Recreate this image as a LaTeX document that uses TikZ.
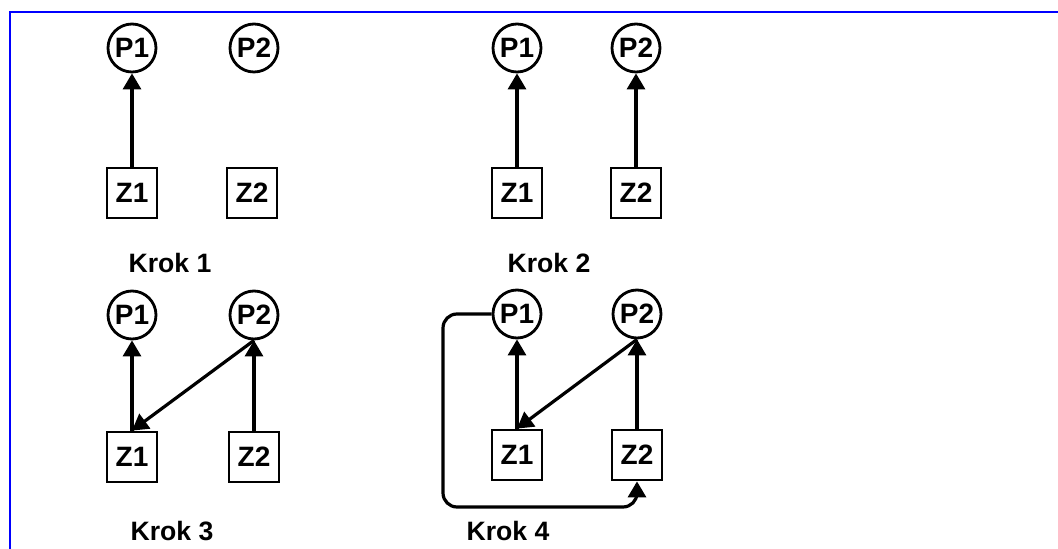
\documentclass[tikz,border=0pt]{standalone}
\usepackage{fontspec}
\setmainfont{Liberation Sans}
\usetikzlibrary{arrows.meta}
\begin{document}
\begin{tikzpicture}[x=0.5pt,y=-0.5pt,
  pnode/.style={circle,draw,line width=1.4pt,minimum size=24pt,inner sep=0pt,font=\bfseries\fontsize{14}{16}\selectfont},
  znode/.style={rectangle,draw,line width=1.4pt,minimum size=25pt,inner sep=0pt,font=\bfseries\fontsize{14}{16}\selectfont},
  lbl/.style={font=\bfseries\fontsize{13.3}{15}\selectfont,inner sep=0pt},
  arr/.style={line width=1.6pt,-{Triangle[length=8pt,width=9pt]}}]
\useasboundingbox (0,0) rectangle (1058,549);
\draw[draw={rgb,255:red,0;green,0;blue,255},line width=1.2pt] (10,549) -- (10,12) -- (1058,12);
% Krok 1
\node[pnode] (a1) at (132,48) {P1};
\node[pnode] (a2) at (254,48) {P2};
\node[znode] (b1) at (132,193) {Z1};
\node[znode] (b2) at (252,193) {Z2};
\node[lbl] (k1) at (170,263) {Krok 1};
\draw[arr] (b1) -- (a1);
% Krok 2
\node[pnode] (c1) at (517,48) {P1};
\node[pnode] (c2) at (636,48) {P2};
\node[znode] (d1) at (517,193) {Z1};
\node[znode] (d2) at (636,193) {Z2};
\node[lbl] (k2) at (549,263) {Krok 2};
\draw[arr] (d1) -- (c1);
\draw[arr] (d2) -- (c2);
% Krok 3
\node[pnode] (e1) at (132,315) {P1};
\node[pnode] (e2) at (254,315) {P2};
\node[znode] (f1) at (132,457) {Z1};
\node[znode] (f2) at (254,457) {Z2};
\node[lbl] (k3) at (172,531) {Krok 3};
\draw[arr] (f1) -- (e1);
\draw[arr] (f2) -- (e2);
\draw[arr] (e2.south) -- (f1.north);
% Krok 4
\node[pnode] (g1) at (517,314) {P1};
\node[pnode] (g2) at (637,314) {P2};
\node[znode] (h1) at (517,455) {Z1};
\node[znode] (h2) at (637,455) {Z2};
\node[lbl] (k4) at (508,531) {Krok 4};
\coordinate (c4) at (443,507);
\draw[arr] (h1) -- (g1);
\draw[arr] (h2) -- (g2);
\draw[arr] (g2.south) -- (h1.north);
\draw[arr,rounded corners=7pt] (g1.west) -| (c4) -| (h2.south);
\end{tikzpicture}
\end{document}
